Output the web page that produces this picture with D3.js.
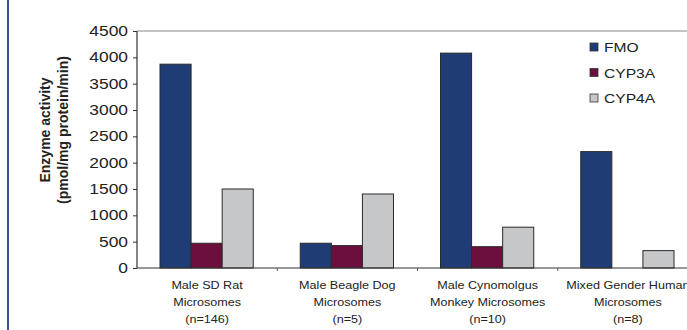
<!DOCTYPE html>
<html>
<head>
<meta charset="utf-8">
<script src="https://cdn.jsdelivr.net/npm/d3@7"></script>
<style>
  body { margin: 0; background: #fff; }
  text { font-family: "Liberation Sans", Arial, sans-serif; }
</style>
</head>
<body>
<div id="chart"></div>
<script>
// data
const categories = [
    ["Male SD Rat", "Microsomes", "(n=146)"],
    ["Male Beagle Dog", "Microsomes", "(n=5)"],
    ["Male Cynomolgus", "Monkey Microsomes", "(n=10)"],
    ["Mixed Gender Human", "Microsomes", "(n=8)"]
];
const seriesNames = ["FMO", "CYP3A", "CYP4A"];
const fmo = [3870, 470, 4080, 2210];
const cyp3a = [470, 425, 405, 0];
const cyp4a = [1500, 1405, 775, 330];
const yTicks = [0, 500, 1000, 1500, 2000, 2500, 3000, 3500, 4000, 4500];
const colors = ["#1f3d74", "#6c0f3d", "#c6c7c9"];

const W = 687, H = 330;
const margin = { top: 31, left: 137, bottom: 62 };
const plotRight = 698; // plot runs past the picture edge
const y0 = H - margin.bottom;

const svg = d3.select("#chart").append("svg")
    .attr("width", W).attr("height", H);

// the blue rule on the left edge
svg.append("rect").attr("x", 7).attr("y", 0).attr("width", 2).attr("height", H)
    .attr("fill", "#34559a");

const allValues = [fmo, cyp3a, cyp4a];
const table = categories.map((c, i) => ({
    idx: i,
    vals: seriesNames.map((s, j) => ({ key: s, j: j, v: allValues[j][i] }))
}));

const x0 = d3.scaleBand()
    .domain(d3.range(categories.length))
    .range([margin.left, plotRight])
    .padding(0);
// group ~140px, bars ~31px -> gap ~23px each side
const x1 = d3.scaleBand()
    .domain(seriesNames)
    .range([23, x0.bandwidth() - 24])
    .padding(0);

const y = d3.scaleLinear().domain([0, 4500]).range([y0, margin.top]);

// stretch text horizontally like the source image
function stretch(sel, origin) {
    sel.style("transform-box", "fill-box")
        .style("transform-origin", origin)
        .style("transform", "scaleX(1.2)");
}

// top frame line
svg.append("line")
    .attr("x1", margin.left).attr("x2", W)
    .attr("y1", y(4500)).attr("y2", y(4500))
    .attr("stroke", "#8a8a8a").attr("stroke-width", 1.2);

// bars
const groups = svg.selectAll("g.grp").data(table).join("g")
    .attr("class", "grp")
    .attr("transform", d => `translate(${x0(d.idx)},0)`);

groups.selectAll("rect")
    .data(d => d.vals.filter(v => v.v > 0))
    .join("rect")
    .attr("x", d => x1(d.key))
    .attr("y", d => y(d.v))
    .attr("width", x1.bandwidth())
    .attr("height", d => y0 - y(d.v))
    .attr("fill", d => colors[d.j])
    .attr("stroke", "#2a2a2a")
    .attr("stroke-width", 1);

// y axis
const yAxis = d3.axisLeft(y).tickValues(yTicks).tickFormat(d3.format("d"))
    .tickSize(4).tickPadding(5);
const gy = svg.append("g")
    .attr("transform", `translate(${margin.left},0)`)
    .call(yAxis);
gy.select(".domain").attr("stroke", "#333").attr("stroke-width", 1.2)
    .attr("d", `M0,${y0}V${margin.top}`);
gy.selectAll(".tick line").attr("stroke", "#333");
gy.selectAll(".tick text")
    .attr("font-size", 14.5)
    .attr("fill", "#222")
    .call(stretch, "right center");

// x axis baseline and group ticks
const xAxis = d3.axisBottom(x0).tickValues([]).tickSizeOuter(0);
const gx = svg.append("g").attr("transform", `translate(0,${y0})`).call(xAxis);
gx.select(".domain").attr("stroke", "#333").attr("stroke-width", 1.2)
    .attr("d", `M${margin.left},0H${W}`);
gx.selectAll("line.sep")
    .data(d3.range(1, categories.length))
    .join("line")
    .attr("class", "sep")
    .attr("x1", d => x0(d)).attr("x2", d => x0(d))
    .attr("y1", 0).attr("y2", 3)
    .attr("stroke", "#555");

// category labels
const lineY = [289, 306, 323];
const labels = svg.append("g");
categories.forEach((lines, i) => {
    lines.forEach((t, k) => {
        labels.append("text")
            .attr("x", x0(i) + x0.bandwidth() / 2)
            .attr("y", lineY[k])
            .attr("text-anchor", "middle")
            .attr("font-size", 10.5)
            .attr("fill", "#222")
            .text(t)
            .call(stretch, "center");
    });
});

// y title
const yTitle = ["Enzyme activity", "(pmol/mg protein/min)"];
yTitle.forEach((t, k) => {
    svg.append("text")
        .attr("transform", `translate(${50 + k * 18},130) rotate(-90)`)
        .attr("text-anchor", "middle")
        .attr("font-size", 14)
        .attr("font-weight", "bold")
        .attr("fill", "#222")
        .text(t);
});

// legend
const legend = svg.append("g").attr("transform", "translate(590,47)");
seriesNames.forEach((s, i) => {
    const row = legend.append("g").attr("transform", `translate(0,${i * 25.5})`);
    row.append("rect").attr("x", 0).attr("y", -4).attr("width", 8).attr("height", 8)
        .attr("fill", colors[i]).attr("stroke", "#333").attr("stroke-width", 0.8);
    row.append("text").attr("x", 14).attr("y", 5)
        .attr("font-size", 13)
        .attr("fill", "#222")
        .text(s)
        .call(stretch, "left center");
});
</script>
</body>
</html>
